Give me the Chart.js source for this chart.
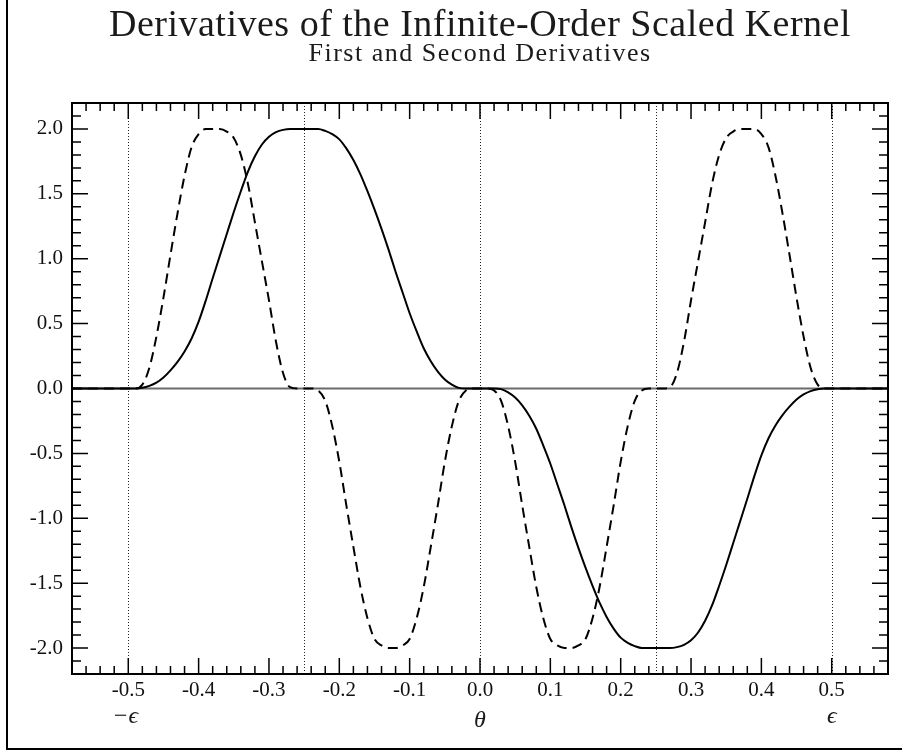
<!DOCTYPE html>
<html>
<head>
<meta charset="utf-8">
<title>Derivatives of the Infinite-Order Scaled Kernel</title>
<script src="https://cdn.jsdelivr.net/npm/chart.js"></script>
<style>
  html, body { margin: 0; padding: 0; background: #fff; overflow: hidden; }
  #wrap { position: relative; width: 902px; height: 755px; }
  #frame { position: absolute; left: 6px; top: -4px; width: 900px; height: 754px; box-sizing: border-box;
           border-left: 2px solid #000; border-bottom: 2px solid #000; pointer-events: none; }
  canvas { position: absolute; left: 0; top: 0; }
</style>
</head>
<body>
<div id="wrap">
  <canvas id="kernel" width="902" height="755"></canvas>
  <div id="frame"></div>
</div>
<script>
// theta sample points
const xValues = [-0.58,
  -0.50, -0.49, -0.48, -0.47, -0.46, -0.45, -0.44, -0.43, -0.42, -0.41,
  -0.40, -0.39, -0.38, -0.37, -0.36, -0.35, -0.34, -0.33, -0.32, -0.31,
  -0.30, -0.29, -0.28, -0.27, -0.26, -0.25, -0.24, -0.23, -0.22, -0.21,
  -0.20, -0.19, -0.18, -0.17, -0.16, -0.15, -0.14, -0.13, -0.12, -0.11,
  -0.10, -0.09, -0.08, -0.07, -0.06, -0.05, -0.04, -0.03, -0.02, -0.01,
   0.00,  0.01,  0.02,  0.03,  0.04,  0.05,  0.06,  0.07,  0.08,  0.09,
   0.10,  0.11,  0.12,  0.13,  0.14,  0.15,  0.16,  0.17,  0.18,  0.19,
   0.20,  0.21,  0.22,  0.23,  0.24,  0.25,  0.26,  0.27,  0.28,  0.29,
   0.30,  0.31,  0.32,  0.33,  0.34,  0.35,  0.36,  0.37,  0.38,  0.39,
   0.40,  0.41,  0.42,  0.43,  0.44,  0.45,  0.46,  0.47,  0.48,  0.49,
   0.50, 0.58];

// first derivative (solid)
const firstDeriv = [0,
  0, 0, 0.005, 0.02, 0.045, 0.085, 0.14, 0.205, 0.285, 0.385,
  0.515, 0.675, 0.85, 1.02, 1.19, 1.36, 1.52, 1.67, 1.79, 1.88,
  1.94, 1.975, 1.993, 2.00, 2.00, 2.00, 2.00, 2.00, 1.985, 1.96,
  1.92, 1.85, 1.76, 1.65, 1.52, 1.38, 1.23, 1.07, 0.90, 0.74,
  0.58, 0.44, 0.31, 0.21, 0.13, 0.07, 0.03, 0.005, 0, 0,
  0, 0, 0, -0.005, -0.03, -0.07, -0.13, -0.21, -0.31, -0.44,
  -0.58, -0.74, -0.90, -1.07, -1.23, -1.38, -1.52, -1.65, -1.76, -1.85,
  -1.92, -1.96, -1.985, -2.00, -2.00, -2.00, -2.00, -2.00, -1.993, -1.975,
  -1.94, -1.88, -1.79, -1.67, -1.52, -1.36, -1.19, -1.02, -0.85, -0.675,
  -0.515, -0.385, -0.285, -0.205, -0.14, -0.085, -0.045, -0.02, -0.005, 0,
  0, 0];

// second derivative (dashed)
const secondDeriv = [0,
  0, 0, 0.03, 0.16, 0.40, 0.70, 1.03, 1.35, 1.64, 1.86,
  1.96, 2.00, 2.00, 2.00, 1.98, 1.93, 1.80, 1.58, 1.28, 0.98,
  0.68, 0.36, 0.12, 0.01, 0, 0, 0, -0.015, -0.095, -0.29,
  -0.565, -0.90, -1.22, -1.53, -1.77, -1.93, -1.98, -2.00, -2.00, -1.98,
  -1.93, -1.77, -1.53, -1.22, -0.90, -0.565, -0.29, -0.095, -0.015, 0,
  0, 0, -0.015, -0.095, -0.29, -0.565, -0.90, -1.22, -1.53, -1.77,
  -1.93, -1.98, -2.00, -2.00, -1.98, -1.93, -1.77, -1.53, -1.22, -0.90,
  -0.565, -0.29, -0.095, -0.015, 0, 0, 0, 0.01, 0.12, 0.36,
  0.68, 0.98, 1.28, 1.58, 1.80, 1.93, 1.98, 2.00, 2.00, 2.00,
  1.96, 1.86, 1.64, 1.35, 1.03, 0.70, 0.40, 0.16, 0.03, 0,
  0, 0];

const xTickValues = [-0.5, -0.4, -0.3, -0.2, -0.1, 0.0, 0.1, 0.2, 0.3, 0.4, 0.5];
const xTickLabels = ['-0.5', '-0.4', '-0.3', '-0.2', '-0.1', '0.0', '0.1', '0.2', '0.3', '0.4', '0.5'];
const yTickValues = [-2.0, -1.5, -1.0, -0.5, 0.0, 0.5, 1.0, 1.5, 2.0];
const yTickLabels = ['-2.0', '-1.5', '-1.0', '-0.5', '0.0', '0.5', '1.0', '1.5', '2.0'];
const symbolValues = [-0.5, 0.5];
const symbolLabels = ['\u2212\u03F5', '\u03F5'];
const refLinesX = [-0.5, -0.25, 0, 0.25, 0.5];

const X_MIN = -0.58, X_MAX = 0.58, Y_MIN = -2.2, Y_MAX = 2.2;
const X_MINOR = 0.02, Y_MINOR = 0.1;

const titleText = 'Derivatives of the Infinite-Order Scaled Kernel';
const subtitleText = 'First and Second Derivatives';
const axisLabel = '\u03B8';
const serif = '"Liberation Serif", "Times New Roman", serif';

function steps(min, max, step) {
  const out = [];
  for (let i = Math.ceil(min / step - 1e-9); i * step <= max + 1e-9; i++) out.push(+(i * step).toFixed(4));
  return out;
}

const decorations = {
  id: 'decorations',
  beforeDatasetsDraw(chart) {
    const { ctx, chartArea: a, scales: { x, y } } = chart;
    ctx.save();
    // zero line
    const y0 = y.getPixelForValue(0);
    ctx.strokeStyle = '#6b6b6b';
    ctx.lineWidth = 2;
    ctx.beginPath(); ctx.moveTo(a.left, y0); ctx.lineTo(a.right, y0); ctx.stroke();
    // dotted markers
    ctx.strokeStyle = '#222';
    ctx.lineWidth = 1;
    ctx.setLineDash([1, 2]);
    refLinesX.forEach(v => {
      const px = Math.round(x.getPixelForValue(v)) + 0.5;
      ctx.beginPath(); ctx.moveTo(px, a.top); ctx.lineTo(px, a.bottom); ctx.stroke();
    });
    ctx.restore();
  },
  afterDatasetsDraw(chart) {
    const { ctx, chartArea: a, scales: { x, y } } = chart;
    ctx.save();
    ctx.strokeStyle = '#000';
    ctx.lineWidth = 1.5;
    const isMajor = (v, list) => list.some(t => Math.abs(t - v) < 1e-6);
    // x ticks, bottom and top, pointing in
    steps(X_MIN, X_MAX, X_MINOR).forEach(v => {
      const len = isMajor(v, xTickValues) ? 16 : 8;
      const px = x.getPixelForValue(v);
      ctx.beginPath();
      ctx.moveTo(px, a.bottom); ctx.lineTo(px, a.bottom - len);
      ctx.moveTo(px, a.top); ctx.lineTo(px, a.top + len);
      ctx.stroke();
    });
    // y ticks, left and right
    steps(Y_MIN, Y_MAX, Y_MINOR).forEach(v => {
      const len = isMajor(v, yTickValues) ? 16 : 9;
      const py = y.getPixelForValue(v);
      ctx.beginPath();
      ctx.moveTo(a.left, py); ctx.lineTo(a.left + len, py);
      ctx.moveTo(a.right, py); ctx.lineTo(a.right - len, py);
      ctx.stroke();
    });
    // frame
    ctx.lineWidth = 2;
    ctx.strokeRect(a.left, a.top, a.right - a.left, a.bottom - a.top);
    ctx.restore();
  },
  afterDraw(chart) {
    const { ctx, chartArea: a, scales: { x } } = chart;
    const cx = (a.left + a.right) / 2;
    ctx.save();
    ctx.fillStyle = '#1a1a1a';
    ctx.textAlign = 'center';
    ctx.textBaseline = 'alphabetic';
    ctx.font = '38px ' + serif;
    ctx.letterSpacing = '0.5px';
    ctx.fillText(titleText, cx, 36);
    ctx.font = '26px ' + serif;
    ctx.letterSpacing = '1.5px';
    ctx.fillText(subtitleText, cx, 61);
    ctx.letterSpacing = '0px';
    // symbolic labels under the ticks
    ctx.font = 'italic 24px ' + serif;
    symbolValues.forEach((v, i) => {
      ctx.fillText(symbolLabels[i], x.getPixelForValue(v) - (v < 0 ? 3 : 0), 723);
    });
    ctx.fillText(axisLabel, x.getPixelForValue(0), 727);
    ctx.restore();
  }
};

new Chart(document.getElementById('kernel'), {
  type: 'line',
  data: {
    datasets: [
      {
        label: 'First derivative',
        data: xValues.map((v, i) => ({ x: v, y: firstDeriv[i] })),
        borderColor: '#000', borderWidth: 2, pointRadius: 0,
        cubicInterpolationMode: 'monotone', fill: false
      },
      {
        label: 'Second derivative',
        data: xValues.map((v, i) => ({ x: v, y: secondDeriv[i] })),
        borderColor: '#000', borderWidth: 2, borderDash: [10, 6], pointRadius: 0,
        cubicInterpolationMode: 'monotone', fill: false
      }
    ]
  },
  options: {
    responsive: false,
    animation: false,
    devicePixelRatio: 1,
    layout: { padding: { top: 103, left: 0, right: 14, bottom: 0 } },
    plugins: { legend: { display: false }, title: { display: false }, tooltip: { enabled: false } },
    scales: {
      x: {
        type: 'linear', min: X_MIN, max: X_MAX,
        grid: { display: false, drawTicks: false, tickLength: 0 },
        border: { display: false },
        afterBuildTicks: s => { s.ticks = xTickValues.map(v => ({ value: v })); },
        afterFit: s => { s.height = 81; },
        ticks: {
          color: '#111', padding: 4, maxRotation: 0, autoSkip: false,
          font: { family: serif, size: 21 },
          callback: v => xTickLabels[xTickValues.findIndex(t => Math.abs(t - v) < 1e-6)]
        }
      },
      y: {
        min: Y_MIN, max: Y_MAX,
        grid: { display: false, drawTicks: false, tickLength: 0 },
        border: { display: false },
        afterBuildTicks: s => { s.ticks = yTickValues.map(v => ({ value: v })); },
        afterFit: s => { s.width = 72; },
        ticks: {
          color: '#111', padding: 9, autoSkip: false,
          font: { family: serif, size: 21 },
          callback: v => yTickLabels[yTickValues.findIndex(t => Math.abs(t - v) < 1e-6)]
        }
      }
    }
  },
  plugins: [decorations]
});
</script>
</body>
</html>
